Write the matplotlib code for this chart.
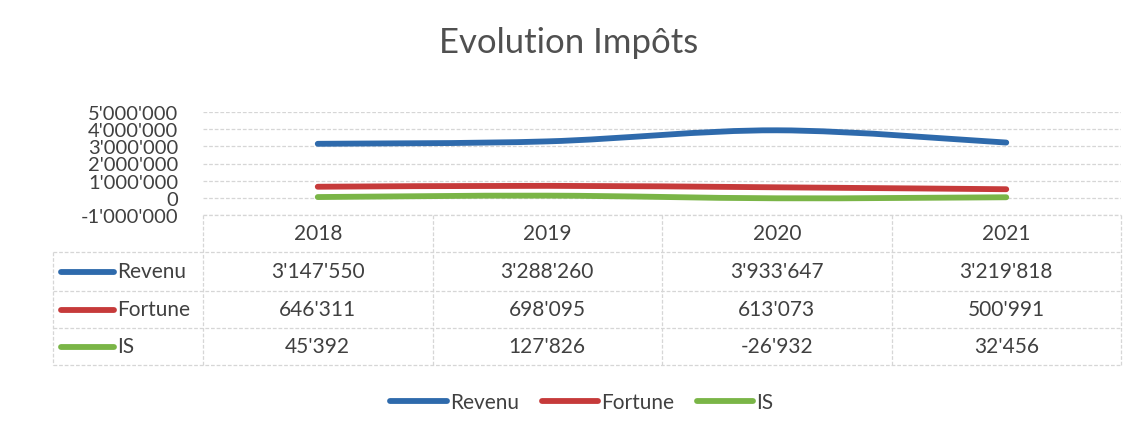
import matplotlib
matplotlib.use("Agg")
import matplotlib.pyplot as plt
from matplotlib.path import Path
from matplotlib.patches import PathPatch
from matplotlib.lines import Line2D
import matplotlib.transforms as mtransforms
from matplotlib.ticker import FuncFormatter

# ---------------- data ----------------
title = "Evolution Impôts"
years = ["2018", "2019", "2020", "2021"]
series_names = ["Revenu", "Fortune", "IS"]
revenu = [3147550, 3288260, 3933647, 3219818]
fortune = [646311, 698095, 613073, 500991]
impot_source = [45392, 127826, -26932, 32456]
y_ticks = [-1000000, 0, 1000000, 2000000, 3000000, 4000000, 5000000]

series_values = [revenu, fortune, impot_source]
colors = ["#2E6AAC", "#C63A3A", "#7AB547"]
text_color = "#404040"
grid_color = "#d6d6d6"
FONT = ["Lato", "DejaVu Sans"]
plt.rcParams["font.family"] = FONT

W, H = 1137, 435
fig = plt.figure(figsize=(W / 100, H / 100), dpi=100)
fig.patch.set_facecolor("white")


def fx(px):
    return px / W


def fy(py):
    return 1 - py / H


# plot area
left_px, right_px, top_px, bottom_px = 203, 1121, 113, 216
ax = fig.add_axes([fx(left_px), fy(bottom_px), fx(right_px - left_px), (bottom_px - top_px) / H])
ax.set_xlim(-0.5, len(years) - 0.5)
ax.set_ylim(y_ticks[0], y_ticks[-1])
ax.set_yticks(y_ticks)
ax.set_xticks([])
ax.yaxis.set_major_formatter(FuncFormatter(lambda v, p: f"{int(v):,}".replace(",", "'")))
ax.tick_params(axis="y", length=0, pad=18, labelsize=14.5, labelcolor=text_color)
for s in ax.spines.values():
    s.set_visible(False)
ax.grid(axis="y", color=grid_color, linewidth=0.9, linestyle=(0, (3, 1.5)))
ax.set_axisbelow(True)


def smooth_path(xs, ys):
    pts = list(zip(xs, ys))
    n = len(pts)
    verts = [pts[0]]
    codes = [Path.MOVETO]
    for i in range(n - 1):
        p0 = pts[i - 1] if i > 0 else pts[i]
        p1 = pts[i]
        p2 = pts[i + 1]
        p3 = pts[i + 2] if i + 2 < n else pts[i + 1]
        c1 = (p1[0] + (p2[0] - p0[0]) / 6, p1[1] + (p2[1] - p0[1]) / 6)
        c2 = (p2[0] - (p3[0] - p1[0]) / 6, p2[1] - (p3[1] - p1[1]) / 6)
        verts += [c1, c2, p2]
        codes += [Path.CURVE4, Path.CURVE4, Path.CURVE4]
    return Path(verts, codes)


xs = list(range(len(years)))
for vals, c in zip(series_values, colors):
    patch = PathPatch(smooth_path(xs, vals), facecolor="none", edgecolor=c,
                      linewidth=4.2, capstyle="round", joinstyle="round", zorder=3)
    ax.add_patch(patch)

# title
fig.text(0.5, fy(43), title, ha="center", va="center", fontsize=25, color="#505050")

# data table
blend = mtransforms.blended_transform_factory(ax.transData, fig.transFigure)
row_lines_px = [216, 253, 292, 329, 366]
table_left_px = 53
tbl_lw = 0.9
for i, yp in enumerate(row_lines_px):
    x0 = left_px if i == 0 else table_left_px
    fig.add_artist(Line2D([fx(x0), fx(right_px)], [fy(yp), fy(yp)], color=grid_color,
                          linewidth=tbl_lw, linestyle=(0, (3, 1.5))))
for k in range(len(years) + 1):
    xb = k - 0.5
    fig.add_artist(Line2D([xb, xb], [fy(row_lines_px[0]), fy(row_lines_px[-1])],
                          transform=blend, color=grid_color, linewidth=tbl_lw,
                          linestyle=(0, (3, 1.5))))
fig.add_artist(Line2D([fx(table_left_px)] * 2, [fy(row_lines_px[1]), fy(row_lines_px[-1])],
                      color=grid_color, linewidth=tbl_lw, linestyle=(0, (3, 1.5))))

hy = fy((row_lines_px[0] + row_lines_px[1]) / 2)
for i, yr in enumerate(years):
    fig.text(i, hy, yr, transform=blend, ha="center", va="center", fontsize=15, color=text_color)

for r, (name, vals, c) in enumerate(zip(series_names, series_values, colors)):
    ry = fy((row_lines_px[r + 1] + row_lines_px[r + 2]) / 2)
    fig.add_artist(Line2D([fx(61), fx(114)], [ry, ry], color=c, linewidth=4.2,
                          solid_capstyle="round"))
    fig.text(fx(117), ry, name, ha="left", va="center", fontsize=15, color=text_color)
    for i, v in enumerate(vals):
        fig.text(i, ry, f"{v:,}".replace(",", "'"), transform=blend, ha="center",
                 va="center", fontsize=15, color=text_color)

# legend
handles = [Line2D([], [], color=c, linewidth=4.2, solid_capstyle="round") for c in colors]
fig.legend(handles, series_names, loc="center", bbox_to_anchor=(fx(582), fy(403)),
           ncol=3, frameon=False, fontsize=15, handlelength=2.7, handletextpad=0.15,
           columnspacing=1.1, labelcolor=text_color)

fig.savefig("out.png", dpi=100, facecolor="white")
